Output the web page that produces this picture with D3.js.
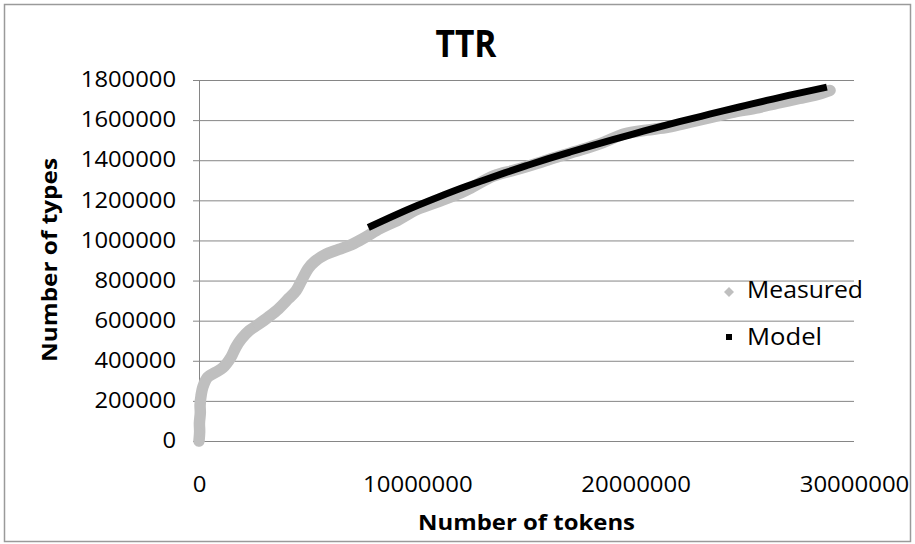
<!DOCTYPE html>
<html>
<head>
<meta charset="utf-8">
<script src="https://cdn.jsdelivr.net/npm/d3@7"></script>
<style>
  html, body { margin: 0; padding: 0; background: #fff; }
  svg { display: block; }
  text { font-family: "Open Sans", "Liberation Sans", sans-serif; fill: #000; }
</style>
</head>
<body>
<script>
// ---- data ----
const measuredTokens = [0, 30000, 20000, 60000, 50000, 100000, 180000, 400000, 750000, 1100000,
  1450000, 1700000, 1950000, 2300000, 2700000, 3200000, 3650000, 4100000, 4450000, 4700000,
  5000000, 5300000, 5800000, 6400000, 7000000, 7600000, 8300000, 9000000, 10000000, 11000000,
  12000000, 12500000, 13500000, 14500000, 15500000, 16500000, 17500000, 18500000, 19500000,
  20500000, 21500000, 22500000, 23500000, 24500000, 25500000, 26500000, 27500000, 28500000, 28900000];
const measuredTypes = [0, 45000, 90000, 140000, 180000, 230000, 270000, 318000, 342000, 366000,
  415000, 470000, 510000, 550000, 580000, 620000, 660000, 710000, 750000, 800000,
  860000, 895000, 930000, 955000, 980000, 1015000, 1060000, 1095000, 1155000, 1195000,
  1238000, 1265000, 1322000, 1352000, 1385000, 1420000, 1452000, 1488000, 1532000,
  1550000, 1565000, 1590000, 1615000, 1640000, 1660000, 1685000, 1708000, 1733000, 1748000];

const modelTokens = [7900000, 9000000, 10000000, 11000000, 12000000, 13000000, 14000000, 15000000,
  16000000, 17000000, 18000000, 19000000, 20000000, 21000000, 22000000, 23000000, 24000000,
  25000000, 26000000, 27000000, 28600000];
const modelTypes = [1072000, 1127000, 1174000, 1218000, 1260000, 1299000, 1337000, 1373000,
  1408000, 1441000, 1473000, 1504000, 1534000, 1564000, 1592000, 1619000, 1646000,
  1672000, 1698000, 1723000, 1761000];

const xTicks = [0, 10000000, 20000000, 30000000];
const yTicks = [0, 200000, 400000, 600000, 800000, 1000000, 1200000, 1400000, 1600000, 1800000];

const titleText = "TTR";
const xTitle = "Number of tokens";
const yTitle = "Number of types";
const seriesNames = ["Measured", "Model"];

// ---- drawing ----
const W = 915, H = 544;
const svg = d3.select("body").append("svg").attr("width", W).attr("height", H);

// chart border
svg.append("rect").attr("x", 4.5).attr("y", 4.5).attr("width", 906).attr("height", 537)
  .attr("fill", "#fff").attr("stroke", "#9a9a9a").attr("stroke-width", 1.5);

const x = d3.scaleLinear().domain([0, 30000000]).range([199, 854]);
const y = d3.scaleLinear().domain([0, 1800000]).range([441, 80]);

// gridlines + y ticks via axis
const yAxis = d3.axisLeft(y).tickValues(yTicks).tickSize(6).tickPadding(17).tickFormat(d3.format("d"));
const gy = svg.append("g").attr("transform", `translate(${x(0)},0)`).call(yAxis);
gy.select(".domain").attr("stroke", "#868686");
gy.selectAll(".tick line").attr("stroke", "#868686");
gy.selectAll(".tick text").attr("font-size", 21).attr("fill", "#111")
  .each(function(d) { const s = String(d); d3.select(this).attr("textLength", s.length * 13.6).attr("lengthAdjust", "spacingAndGlyphs"); });
gy.selectAll(".tick").append("line")
  .attr("x1", 0).attr("x2", x(30000000) - x(0))
  .attr("stroke", "#868686").attr("stroke-width", 1);

// x axis labels (no visible tick marks)
const xAxis = d3.axisBottom(x).tickValues(xTicks).tickSize(0).tickPadding(36).tickFormat(d3.format("d"));
const gx = svg.append("g").attr("transform", `translate(0,${y(0)})`).call(xAxis);
gx.select(".domain").remove();
gx.selectAll(".tick text").attr("font-size", 21).attr("fill", "#111")
  .each(function(d) { const s = String(d); d3.select(this).attr("textLength", s.length * 13.7).attr("lengthAdjust", "spacingAndGlyphs"); });

// measured series
const measured = measuredTokens.map((t, i) => [t, measuredTypes[i]]);
const model = modelTokens.map((t, i) => [t, modelTypes[i]]);
const line = d3.line().x(d => x(d[0])).y(d => y(d[1])).curve(d3.curveCatmullRom);

svg.append("path").datum(measured).attr("d", line)
  .attr("fill", "none").attr("stroke", "#bfbfbf").attr("stroke-width", 11.5)
  .attr("stroke-linejoin", "round").attr("stroke-linecap", "round");
const diamond = d3.symbol().type(d3.symbolSquare).size(60);
svg.append("g").selectAll("path").data(measured).join("path")
  .attr("d", diamond).attr("transform", d => `translate(${x(d[0])},${y(d[1])}) rotate(45)`)
  .attr("fill", "#bfbfbf");

// model series
svg.append("path").datum(model).attr("d", line)
  .attr("fill", "none").attr("stroke", "#000").attr("stroke-width", 7)
  .attr("stroke-linecap", "square");

// title
svg.append("text").attr("x", 466).attr("y", 57).attr("text-anchor", "middle")
  .attr("font-size", 37).attr("font-weight", "bold")
  .attr("textLength", 61).attr("lengthAdjust", "spacingAndGlyphs").text(titleText);

// axis titles
svg.append("text").attr("x", 526.5).attr("y", 530).attr("text-anchor", "middle")
  .attr("font-size", 22).attr("font-weight", "bold")
  .attr("textLength", 217).attr("lengthAdjust", "spacingAndGlyphs").text(xTitle);
svg.append("text").attr("transform", "translate(57,260) rotate(-90)").attr("text-anchor", "middle")
  .attr("font-size", 22).attr("font-weight", "bold")
  .attr("textLength", 204).attr("lengthAdjust", "spacingAndGlyphs").text(yTitle);

// legend
const lg = svg.append("g");
lg.append("path").attr("d", d3.symbol().type(d3.symbolSquare).size(50)())
  .attr("transform", "translate(729,292) rotate(45)").attr("fill", "#bfbfbf");
lg.append("text").attr("x", 747).attr("y", 298).attr("font-size", 24)
  .attr("textLength", 116).attr("lengthAdjust", "spacingAndGlyphs").text(seriesNames[0]);
lg.append("rect").attr("x", 726).attr("y", 334).attr("width", 6).attr("height", 6).attr("fill", "#000");
lg.append("text").attr("x", 747).attr("y", 345).attr("font-size", 24)
  .attr("textLength", 75).attr("lengthAdjust", "spacingAndGlyphs").text(seriesNames[1]);
</script>
</body>
</html>
